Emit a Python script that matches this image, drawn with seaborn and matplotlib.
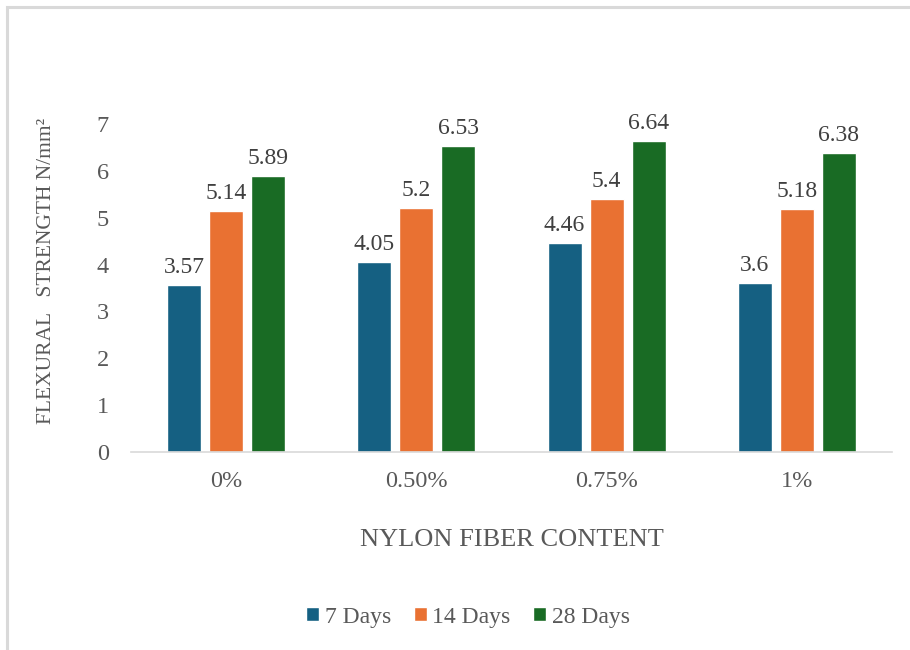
import matplotlib
matplotlib.use("Agg")
import matplotlib.pyplot as plt
from matplotlib.patches import Rectangle
import seaborn as sns
import pandas as pd

# Flexural strength by nylon fiber content and curing age
contents = ["0%", "0.50%", "0.75%", "1%"]
ages = ["7 Days", "14 Days", "28 Days"]
strength_7 = [3.57, 4.05, 4.46, 3.6]
strength_14 = [5.14, 5.2, 5.4, 5.18]
strength_28 = [5.89, 6.53, 6.64, 6.38]
value_labels_7 = ["3.57", "4.05", "4.46", "3.6"]
value_labels_14 = ["5.14", "5.2", "5.4", "5.18"]
value_labels_28 = ["5.89", "6.53", "6.64", "6.38"]
y_ticks = [0, 1, 2, 3, 4, 5, 6, 7]

colors = ["#156082", "#E97132", "#196B24"]
text_color = "#595959"

sns.set_theme(style="white")
plt.rcParams["font.family"] = ["Liberation Serif", "DejaVu Serif"]

rows = []
for age, vals, labs in zip(ages, [strength_7, strength_14, strength_28],
                           [value_labels_7, value_labels_14, value_labels_28]):
    for c, v, l in zip(contents, vals, labs):
        rows.append({"content": c, "age": age, "strength": v, "label": l})
df = pd.DataFrame(rows)

fig = plt.figure(figsize=(9.1, 6.5), dpi=100)
ax = fig.add_axes([131 / 910, 1 - 452 / 650, 761 / 910, (452 - 124) / 650])

sns.barplot(data=df, x="content", y="strength", hue="age", order=contents,
            hue_order=ages, palette=colors, width=0.663, gap=0.19,
            saturation=1, errorbar=None, ax=ax, legend=True)

for container, age in zip(ax.containers, ages):
    labs = df[df["age"] == age].set_index("content").loc[contents, "label"].tolist()
    ax.bar_label(container, labels=labs, padding=5, fontsize=17,
                 color="#404040", clip_on=False)

ax.set_xlim(-0.5, 3.5)
ax.set_ylim(0, 7)
ax.set_yticks(y_ticks)
ax.tick_params(axis="both", length=0, labelsize=17.5, labelcolor=text_color)
ax.tick_params(axis="x", pad=14)
ax.tick_params(axis="y", pad=16)
for side in ["top", "right", "left"]:
    ax.spines[side].set_visible(False)
ax.spines["bottom"].set_color("#D9D9D9")
ax.spines["bottom"].set_linewidth(1.2)

ax.set_xlabel("NYLON FIBER CONTENT", fontsize=19, color=text_color, labelpad=26)
ax.set_ylabel("FLEXURAL   STRENGTH N/mm²", fontsize=15.5, color=text_color)
ax.yaxis.set_label_coords((56 - 131) / 761, (452 - 271) / 328)

leg = ax.legend(loc="center", bbox_to_anchor=(468 / 910, 1 - 617 / 650),
                bbox_transform=fig.transFigure, ncol=3, frameon=False,
                fontsize=17, handlelength=0.55, handleheight=0.55,
                handletextpad=0.25, columnspacing=0.95, labelcolor=text_color)

# chart-area frame
fig.patches.append(Rectangle((7 / 910, -0.05), 1.1, 1 - 6.5 / 650 + 0.05,
                             transform=fig.transFigure, fill=False,
                             edgecolor="#D9D9D9", linewidth=2.2))

fig.savefig("out.png", dpi=100)
